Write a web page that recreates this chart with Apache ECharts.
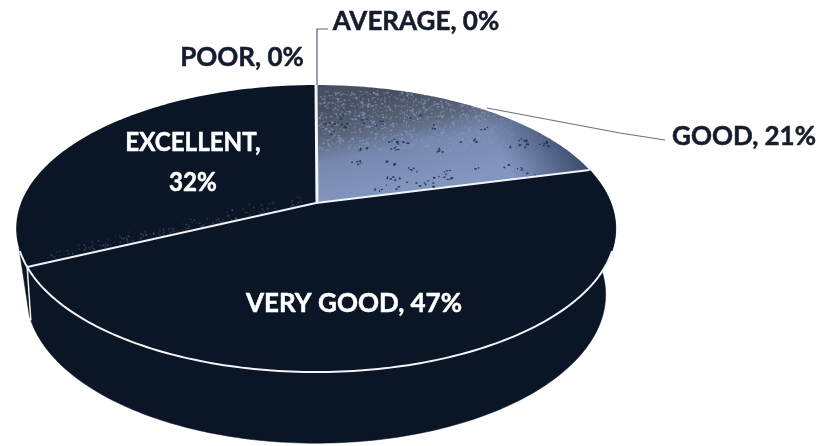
<!DOCTYPE html>
<html>
<head>
<meta charset="utf-8">
<style>html,body{margin:0;padding:0;background:#fff}#c{width:822px;height:446px}</style>
<script src="https://cdn.jsdelivr.net/npm/echarts@6/dist/echarts.min.js"></script>
</head>
<body>
<div id="c"></div>
<script>
var categories = ['GOOD', 'VERY GOOD', 'EXCELLENT', 'POOR', 'AVERAGE'];
var values = [21, 47, 32, 0, 0];

var NAVY = '#0a1525', CX = 316;
var TOP = {a: 295, y0: 203, b: 139, k: 0.178};
var BASE = {a: 285, y0: 268, b: 144, k: 0.178};
function project(p, deg) {
  var t = deg * Math.PI / 180, u = Math.sin(t), v = -Math.cos(t), d = 1 - p.k * v;
  return [CX + p.a * u / d, p.y0 + p.b * v / d];
}
function arc(p, from, to) {
  var pts = [], n = Math.max(2, Math.ceil(Math.abs(to - from)));
  for (var i = 0; i <= n; i++) pts.push(project(p, from + (to - from) * i / n));
  return pts;
}
var total = values.reduce(function (a, b) { return a + b; }, 0);
function bounds(i) {
  var s = 0;
  for (var j = 0; j < i; j++) s += values[j];
  return [s / total * 360, (s + values[i]) / total * 360];
}

// mottled print texture, deterministic
function lcg(seed) { var s = seed; return function () { s = (s * 16807) % 2147483647; return s / 2147483647; }; }
function mottledTexture() {
  var cv = document.createElement('canvas'); cv.width = 822; cv.height = 446;
  var g = cv.getContext('2d');
  var gr = g.createLinearGradient(410, 90, 430, 185);
  gr.addColorStop(0, '#474f60'); gr.addColorStop(0.3, '#5a6478');
  gr.addColorStop(0.55, '#7688ae'); gr.addColorStop(1, '#8296c0');
  g.fillStyle = gr; g.fillRect(0, 0, 822, 446);
  var r = lcg(4711), i, j, x, y;
  // light flecks that break up the dark upper band
  for (i = 0; i < 1500; i++) {
    x = 318 + r() * 270; y = 90 + r() * 60;
    g.fillStyle = 'rgba(135,152,192,' + (0.3 + r() * 0.45) + ')';
    g.fillRect(x, y, 1 + r() * 1.5, 1 + r());
  }
  // small clusters of dark flecks
  for (i = 0; i < 60; i++) {
    x = 320 + r() * 255; y = 115 + r() * 85;
    var n = 1 + Math.floor(r() * 5);
    for (j = 0; j < n; j++) {
      g.fillStyle = '#26355a';
      g.fillRect(x + (r() - 0.5) * 10, y + (r() - 0.5) * 5, 1 + r() * 1.6, 1 + r());
    }
  }
  // dark wash along the rim on the right
  var wash = g.createLinearGradient(500, 150, 575, 115);
  wash.addColorStop(0, 'rgba(30,42,70,0)'); wash.addColorStop(1, 'rgba(30,42,70,0.8)');
  g.fillStyle = wash; g.fillRect(300, 80, 300, 130);
  return cv;
}
function excellentTexture() {
  var cv = document.createElement('canvas'); cv.width = 822; cv.height = 446;
  var g = cv.getContext('2d');
  g.fillStyle = NAVY; g.fillRect(0, 0, 822, 446);
  var r = lcg(977);
  for (var i = 0; i < 170; i++) {
    var x = 50 + r() * 250, edge = 262 - (x - 26) * 0.205, y = edge - r() * r() * 14;
    g.fillStyle = 'rgba(110,130,175,' + (0.15 + r() * 0.3) + ')';
    g.fillRect(x, y, 1 + r(), 1 + r());
  }
  return cv;
}
var fills = [
  {image: mottledTexture(), repeat: 'no-repeat'},
  NAVY,
  {image: excellentTexture(), repeat: 'no-repeat'},
  NAVY, NAVY
];

function wallItem(params) {
  var i = params.dataIndex;
  if (!values[i]) return null;
  var b = bounds(i), pts;
  if (i === 1) pts = arc(TOP, b[0], b[1]).concat(arc(BASE, 250, b[0]));
  else if (i === 2) pts = arc(TOP, b[0], 252).concat(arc(BASE, 252, 250));
  else return null;
  return {type: 'polygon', shape: {points: pts}, style: {fill: NAVY, stroke: NAVY, lineWidth: 0.5}};
}
function faceItem(params) {
  var i = params.dataIndex;
  if (!values[i]) return null;
  var b = bounds(i);
  var pts = [[CX, TOP.y0]].concat(arc(TOP, b[0], b[1]));
  return {type: 'polygon', shape: {points: pts}, style: {fill: fills[i], stroke: null}};
}
var FONT = 26;
function label(x, y, s, color, sx) {
  return {type: 'text', x: x, y: y, scaleX: sx || 1, style: {text: s, fill: color, stroke: color, lineWidth: 0.5,
    fontFamily: 'Lato', fontWeight: 'bold', fontSize: FONT, align: 'center', verticalAlign: 'middle', lineHeight: 40}};
}
function caption(i, sep) { return categories[i] + ',' + (sep || ' ') + values[i] + '%'; }
function line(points, color, w) {
  return {type: 'polyline', shape: {points: points}, style: {stroke: color, fill: null, lineWidth: w}};
}
var labelPos = [
  [744, 137, '#151d2d'], [354, 304, '#ffffff'], [193, 163, '#ffffff'], [242, 58, '#151d2d'], [416, 22, '#151d2d']
];
function overlayItem(params) {
  var i = params.dataIndex, p = labelPos[i], kids = [];
  var b = bounds(i);
  if (i === 1) {
    kids.push(line(arc(TOP, 109, 251), '#f2f4f8', 2));
    kids.push(line([[CX, TOP.y0], project(TOP, b[0])], '#f2f4f8', 2));
    kids.push(line([[CX, TOP.y0], project(TOP, b[1])], '#eef1f6', 2));
    kids.push(line([project(TOP, b[1]), project(BASE, 250)], '#eef1f6', 1.5));
  }
  if (i === 0) {
    kids.push(line([[CX + 1, TOP.y0], project(TOP, 0)], '#f2f4f8', 3));
    kids.push(line([[487, 108], [620, 133], [665, 140]], '#6a7280', 1.2));
  }
  if (i === 4) kids.push(line([[317, 85], [317, 29], [328, 29]], '#5a6270', 1.2));
  kids.push(label(p[0], p[1], caption(i, i === 2 ? '\n' : ' '), p[2], i === 2 ? 0.93 : 1));
  return {type: 'group', children: kids};
}
var seriesData = values.map(function (v, i) { return {name: categories[i], value: v}; });
var chart = echarts.init(document.getElementById('c'), null, {renderer: 'canvas'});
chart.setOption({
  animation: false,
  backgroundColor: '#ffffff',
  series: [
    {type: 'custom', coordinateSystem: 'none', silent: true, z: 1, data: seriesData, renderItem: wallItem},
    {type: 'custom', coordinateSystem: 'none', silent: true, z: 2, data: seriesData, renderItem: faceItem},
    {type: 'custom', coordinateSystem: 'none', silent: true, z: 3, data: seriesData, renderItem: overlayItem}
  ]
});
</script>
</body>
</html>
